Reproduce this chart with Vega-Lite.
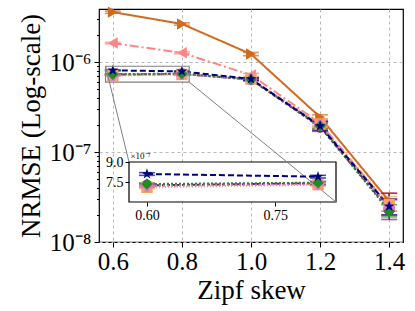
{
  "$schema": "https://vega.github.io/schema/vega-lite/v6.json",
  "width": 304,
  "height": 233,
  "autosize": "none",
  "padding": {"left": 99, "top": 9, "right": 12, "bottom": 69},
  "config": {
    "font": "Liberation Serif",
    "view": {"stroke": "black", "strokeWidth": 1.2},
    "axis": {"labelColor": "black", "titleColor": "black", "tickColor": "black", "titleFontWeight": "normal", "domain": false}
  },
  "datasets": {
    "d": [
      {"s": "s1", "x": 0.6, "y": 3.6e-6, "lo": 3.5e-6, "hi": 3.7e-6},
      {"s": "s1", "x": 0.8, "y": 2.66e-6, "lo": 2.58e-6, "hi": 2.74e-6},
      {"s": "s1", "x": 1.0, "y": 1.23e-6, "lo": 1.18e-6, "hi": 1.28e-6},
      {"s": "s1", "x": 1.2, "y": 2.45e-7, "lo": 2.33e-7, "hi": 2.6e-7},
      {"s": "s1", "x": 1.4, "y": 2.85e-8, "lo": 2.2e-8, "hi": 3.5e-8},
      {"s": "s2", "x": 0.6, "y": 1.63e-6, "lo": 1.6e-6, "hi": 1.66e-6},
      {"s": "s2", "x": 0.8, "y": 1.27e-6, "lo": 1.24e-6, "hi": 1.3e-6},
      {"s": "s2", "x": 1.0, "y": 7.2e-7, "lo": 6.9e-7, "hi": 7.5e-7},
      {"s": "s2", "x": 1.2, "y": 2.1e-7, "lo": 1.95e-7, "hi": 2.25e-7},
      {"s": "s2", "x": 1.4, "y": 2.5e-8, "lo": 2.0e-8, "hi": 3.0e-8},
      {"s": "s7", "x": 0.6, "y": 7.25e-7, "lo": 7.15e-7, "hi": 7.35e-7},
      {"s": "s7", "x": 0.8, "y": 7.4e-7, "lo": 7.3e-7, "hi": 7.5e-7},
      {"s": "s7", "x": 1.0, "y": 6.4e-7, "lo": 6.2e-7, "hi": 6.6e-7},
      {"s": "s7", "x": 1.2, "y": 1.9e-7, "lo": 1.7e-7, "hi": 2.15e-7},
      {"s": "s7", "x": 1.4, "y": 2.3e-8, "lo": 1.78e-8, "hi": 3.48e-8},
      {"s": "s6", "x": 0.6, "y": 7.1e-7, "lo": 7.0e-7, "hi": 7.2e-7},
      {"s": "s6", "x": 0.8, "y": 7.3e-7, "lo": 7.2e-7, "hi": 7.4e-7},
      {"s": "s6", "x": 1.0, "y": 6.5e-7, "lo": 6.3e-7, "hi": 6.7e-7},
      {"s": "s6", "x": 1.2, "y": 2.05e-7, "lo": 1.9e-7, "hi": 2.2e-7},
      {"s": "s6", "x": 1.4, "y": 2.6e-8, "lo": 2.2e-8, "hi": 3.2e-8},
      {"s": "s5", "x": 0.6, "y": 7.2e-7, "lo": 7.12e-7, "hi": 7.28e-7},
      {"s": "s5", "x": 0.8, "y": 7.35e-7, "lo": 7.25e-7, "hi": 7.45e-7},
      {"s": "s5", "x": 1.0, "y": 6.45e-7, "lo": 6.3e-7, "hi": 6.6e-7},
      {"s": "s5", "x": 1.2, "y": 2.0e-7, "lo": 1.85e-7, "hi": 2.15e-7},
      {"s": "s5", "x": 1.4, "y": 2.4e-8, "lo": 2.0e-8, "hi": 2.9e-8},
      {"s": "s4", "x": 0.6, "y": 7.35e-7, "lo": 7.27e-7, "hi": 7.43e-7},
      {"s": "s4", "x": 0.8, "y": 7.45e-7, "lo": 7.35e-7, "hi": 7.55e-7},
      {"s": "s4", "x": 1.0, "y": 6.4e-7, "lo": 6.25e-7, "hi": 6.55e-7},
      {"s": "s4", "x": 1.2, "y": 1.95e-7, "lo": 1.82e-7, "hi": 2.08e-7},
      {"s": "s4", "x": 1.4, "y": 2.2e-8, "lo": 1.9e-8, "hi": 2.6e-8},
      {"s": "s3", "x": 0.6, "y": 8.1e-7, "lo": 8.0e-7, "hi": 8.2e-7},
      {"s": "s3", "x": 0.8, "y": 7.9e-7, "lo": 7.8e-7, "hi": 8.0e-7},
      {"s": "s3", "x": 1.0, "y": 6.5e-7, "lo": 6.3e-7, "hi": 6.7e-7},
      {"s": "s3", "x": 1.2, "y": 1.95e-7, "lo": 1.75e-7, "hi": 2.2e-7},
      {"s": "s3", "x": 1.4, "y": 2.5e-8, "lo": 2.0e-8, "hi": 3.0e-8}
    ]
  },
  "data": {"name": "d"},
  "layer": [
    {
      "layer": [
        {
          "mark": {"type": "line", "strokeWidth": 2},
          "encoding": {
            "x": {"field": "x", "type": "quantitative", "title": "Zipf skew", "scale": {"domain": [0.56, 1.44], "nice": false, "zero": false},
              "axis": {"values": [0.6, 0.8, 1.0, 1.2, 1.4], "format": ".1f", "labelFontSize": 25, "titleFontSize": 27, "tickSize": 5, "labelPadding": 2, "titlePadding": 3, "grid": true, "gridDash": [3, 3], "gridColor": "#b8b8b8", "labelFlush": false}},
            "y": {"field": "y", "type": "quantitative", "title": "NRMSE (Log-scale)", "scale": {"type": "log", "domain": [1e-8, 3.9e-6], "nice": false},
              "axis": {"values": [1e-8, 2e-8, 3e-8, 4e-8, 5e-8, 6e-8, 7e-8, 8e-8, 9e-8, 1e-7, 2e-7, 3e-7, 4e-7, 5e-7, 6e-7, 7e-7, 8e-7, 9e-7, 1e-6, 2e-6, 3e-6],
                "labelExpr": "abs(log(datum.value)/LN10 - round(log(datum.value)/LN10)) < 0.01 ? (round(log(datum.value)/LN10) == -8 ? '10⁻⁸' : round(log(datum.value)/LN10) == -7 ? '10⁻⁷' : '10⁻⁶') : ''",
                "tickSize": {"condition": {"test": "abs(log(datum.value)/LN10 - round(log(datum.value)/LN10)) < 0.01", "value": 5}, "value": 2.5},
                "gridOpacity": {"condition": {"test": "abs(log(datum.value)/LN10 - round(log(datum.value)/LN10)) < 0.01", "value": 1}, "value": 0},
                "grid": true, "gridDash": [3, 3], "gridColor": "#b8b8b8",
                "labelFontSize": 25, "titleFontSize": 27, "labelPadding": 3, "titlePadding": 4, "labelFlush": false}},
            "color": {"field": "s", "type": "nominal", "legend": null, "scale": {"domain": ["s1", "s2", "s3", "s4", "s5", "s6", "s7"], "range": ["#d2691e", "#ff8585", "#000080", "#228b22", "#e070e0", "#f4a460", "#7b1a6b"]}},
            "strokeDash": {"field": "s", "type": "nominal", "legend": null, "scale": {"domain": ["s1", "s2", "s3", "s4", "s5", "s6", "s7"], "range": [[1, 0], [9, 3, 2, 3], [6, 3], [2, 2], [2, 2], [1, 2], [3, 2]]}}
          }
        },
        {
          "mark": {"type": "rule", "strokeWidth": 1.6},
          "encoding": {
            "x": {"field": "x", "type": "quantitative"},
            "y": {"field": "lo", "type": "quantitative", "title": "NRMSE (Log-scale)"},
            "y2": {"field": "hi"},
            "color": {"field": "s", "type": "nominal", "legend": null}
          }
        },
        {
          "mark": {"type": "tick", "orient": "horizontal", "size": 16, "thickness": 1.6},
          "encoding": {
            "x": {"field": "x", "type": "quantitative"},
            "y": {"field": "lo", "type": "quantitative", "title": "NRMSE (Log-scale)"},
            "color": {"field": "s", "type": "nominal", "legend": null}
          }
        },
        {
          "mark": {"type": "tick", "orient": "horizontal", "size": 16, "thickness": 1.6},
          "encoding": {
            "x": {"field": "x", "type": "quantitative"},
            "y": {"field": "hi", "type": "quantitative", "title": "NRMSE (Log-scale)"},
            "color": {"field": "s", "type": "nominal", "legend": null}
          }
        },
        {
          "mark": {"type": "point", "filled": true, "opacity": 1},
          "encoding": {
            "x": {"field": "x", "type": "quantitative"},
            "y": {"field": "y", "type": "quantitative", "title": "NRMSE (Log-scale)"},
            "color": {"field": "s", "type": "nominal", "legend": null},
            "shape": {"field": "s", "type": "nominal", "legend": null, "scale": {"domain": ["s1", "s2", "s3", "s4", "s5", "s6", "s7"], "range": ["triangle-right", "triangle-left", "M0,-1L0.2245,-0.309L0.951,-0.309L0.363,0.118L0.588,0.809L0,0.382L-0.588,0.809L-0.363,0.118L-0.951,-0.309L-0.2245,-0.309Z", "diamond", "cross", "square", "circle"]}},
            "size": {"field": "s", "type": "nominal", "legend": null, "scale": {"domain": ["s1", "s2", "s3", "s4", "s5", "s6", "s7"], "range": [130, 130, 200, 70, 50, 45, 40]}}
          }
        },
        {
          "data": {"values": [{}]},
          "mark": {"type": "rect", "fill": null, "fillOpacity": 0, "stroke": "#808080", "strokeWidth": 1.2},
          "encoding": {
            "x": {"datum": 0.579, "type": "quantitative"},
            "x2": {"datum": 0.821},
            "y": {"datum": 6.0e-7, "type": "quantitative"},
            "y2": {"datum": 9.0e-7}
          }
        },
        {
          "data": {"values": [{}]},
          "mark": {"type": "rect", "fill": "white", "stroke": "black", "strokeWidth": 1.2},
          "encoding": {
            "x": {"datum": 0.64684, "type": "quantitative"},
            "x2": {"datum": 1.24605},
            "y": {"datum": 2.7847e-8, "type": "quantitative"},
            "y2": {"datum": 7.753e-8}
          }
        },
        {
          "data": {"values": [{}]},
          "mark": {"type": "rule", "stroke": "#808080", "strokeWidth": 1},
          "encoding": {
            "x": {"datum": 0.579, "type": "quantitative"},
            "x2": {"datum": 0.64684},
            "y": {"datum": 9.0e-7, "type": "quantitative"},
            "y2": {"datum": 7.753e-8}
          }
        },
        {
          "data": {"values": [{}]},
          "mark": {"type": "rule", "stroke": "#808080", "strokeWidth": 1},
          "encoding": {
            "x": {"datum": 0.821, "type": "quantitative"},
            "x2": {"datum": 1.24605},
            "y": {"datum": 6.0e-7, "type": "quantitative"},
            "y2": {"datum": 2.7847e-8}
          }
        }
      ]
    },
    {
      "transform": [{"filter": "datum.x < 0.85 && datum.y < 9e-7"}],
      "layer": [
        {
          "mark": {"type": "line", "strokeWidth": 2, "clip": true},
          "encoding": {
            "x": {"field": "x", "type": "quantitative", "title": null, "scale": {"domain": [0.579, 0.821], "range": [30, 237], "nice": false, "zero": false},
              "axis": {"orient": "bottom", "offset": -40, "values": [0.6, 0.75], "format": ".2f", "grid": false, "labelFontSize": 14, "tickSize": 4, "labelPadding": 2, "zindex": 1}},
            "y": {"field": "y", "type": "quantitative", "title": "×10⁻⁷", "scale": {"domain": [6.0e-7, 9.0e-7], "range": [193, 153], "nice": false, "zero": false},
              "axis": {"orient": "left", "offset": -30, "values": [7.5e-7, 9.0e-7], "labelExpr": "format(datum.value*1e7, '.1f')", "grid": false, "labelFontSize": 14, "tickSize": 4, "labelPadding": 2, "zindex": 1,
                "titleAngle": 0, "titleAlign": "left", "titleBaseline": "bottom", "titleX": 1, "titleY": 151, "titleFontSize": 9}},
            "color": {"field": "s", "type": "nominal", "legend": null},
            "strokeDash": {"field": "s", "type": "nominal", "legend": null}
          }
        },
        {
          "mark": {"type": "rule", "strokeWidth": 1.6},
          "encoding": {
            "x": {"field": "x", "type": "quantitative"},
            "y": {"field": "lo", "type": "quantitative", "title": "×10⁻⁷"},
            "y2": {"field": "hi"},
            "color": {"field": "s", "type": "nominal", "legend": null}
          }
        },
        {
          "mark": {"type": "tick", "orient": "horizontal", "size": 16, "thickness": 1.6},
          "encoding": {
            "x": {"field": "x", "type": "quantitative"},
            "y": {"field": "lo", "type": "quantitative", "title": "×10⁻⁷"},
            "color": {"field": "s", "type": "nominal", "legend": null}
          }
        },
        {
          "mark": {"type": "tick", "orient": "horizontal", "size": 16, "thickness": 1.6},
          "encoding": {
            "x": {"field": "x", "type": "quantitative"},
            "y": {"field": "hi", "type": "quantitative", "title": "×10⁻⁷"},
            "color": {"field": "s", "type": "nominal", "legend": null}
          }
        },
        {
          "mark": {"type": "point", "filled": true, "opacity": 1},
          "encoding": {
            "x": {"field": "x", "type": "quantitative"},
            "y": {"field": "y", "type": "quantitative", "title": "×10⁻⁷"},
            "color": {"field": "s", "type": "nominal", "legend": null},
            "shape": {"field": "s", "type": "nominal", "legend": null},
            "size": {"field": "s", "type": "nominal", "legend": null}
          }
        }
      ]
    }
  ],
  "resolve": {"scale": {"x": "independent", "y": "independent"}}
}
